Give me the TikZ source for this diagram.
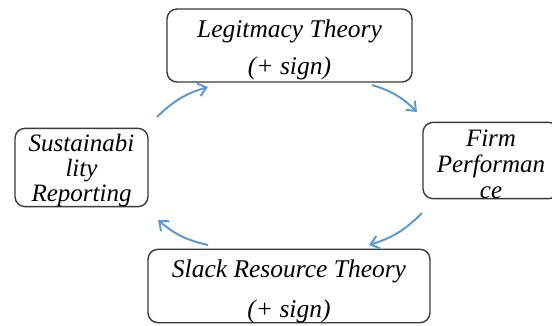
\documentclass[tikz,border=0pt]{standalone}
\usepackage{fontspec}
\setmainfont{Liberation Serif}
\usetikzlibrary{arrows.meta}
\definecolor{arrowblue}{HTML}{5B9BD5}
\definecolor{boxline}{HTML}{3A3A3A}
\newcommand{\topgap}[1]{\rule{0pt}{#1}}
\tikzset{
  cyclebox/.style={draw=boxline, line width=1.4pt, rounded corners=10pt, fill=white,
    align=center, inner sep=0pt, font=\fontsize{25.5}{27}\selectfont\itshape},
  cyclearrow/.style={draw=arrowblue, line width=2pt, bend left=14,
    -{Straight Barb[length=8pt,width=13pt,line width=2pt]}}
}
\begin{document}
\begin{tikzpicture}[x=1pt,y=1pt]
\useasboundingbox (0,0) rectangle (552,325);
\clip (0,0) rectangle (552,325);
\fill[white] (0,0) rectangle (552,325);
\node[cyclebox, minimum width=245pt, minimum height=73pt] (legit) at (289.5,279.5)
  {\topgap{27pt}Legitmacy Theory\\[10pt](+ sign)};
\node[cyclebox, minimum width=136pt, minimum height=75pt, font=\fontsize{25}{26}\selectfont\itshape] (firm) at (491,164.5)
  {\topgap{24pt}Firm\\Performan\\ce};
\node[cyclebox, minimum width=133pt, minimum height=71pt, font=\fontsize{25}{25}\selectfont\itshape] (sust) at (81.5,157.5)
  {\topgap{23pt}Sustainabi\\lity\\Reporting};
\node[cyclebox, minimum width=282pt, minimum height=72pt] (slack) at (289,39)
  {\topgap{28pt}Slack Resource Theory\\[13pt](+ sign)};
\coordinate (a1s) at (157,208);
\coordinate (a1e) at (208,238);
\coordinate (a2s) at (372,240);
\coordinate (a2e) at (417,213);
\coordinate (a3s) at (422,112);
\coordinate (a3e) at (369,80);
\coordinate (a4s) at (208,80);
\coordinate (a4e) at (158,105);
\draw[cyclearrow] (a1s) to (a1e);
\draw[cyclearrow] (a2s) to (a2e);
\draw[cyclearrow] (a3s) to (a3e);
\draw[cyclearrow] (a4s) to (a4e);
\end{tikzpicture}
\end{document}
